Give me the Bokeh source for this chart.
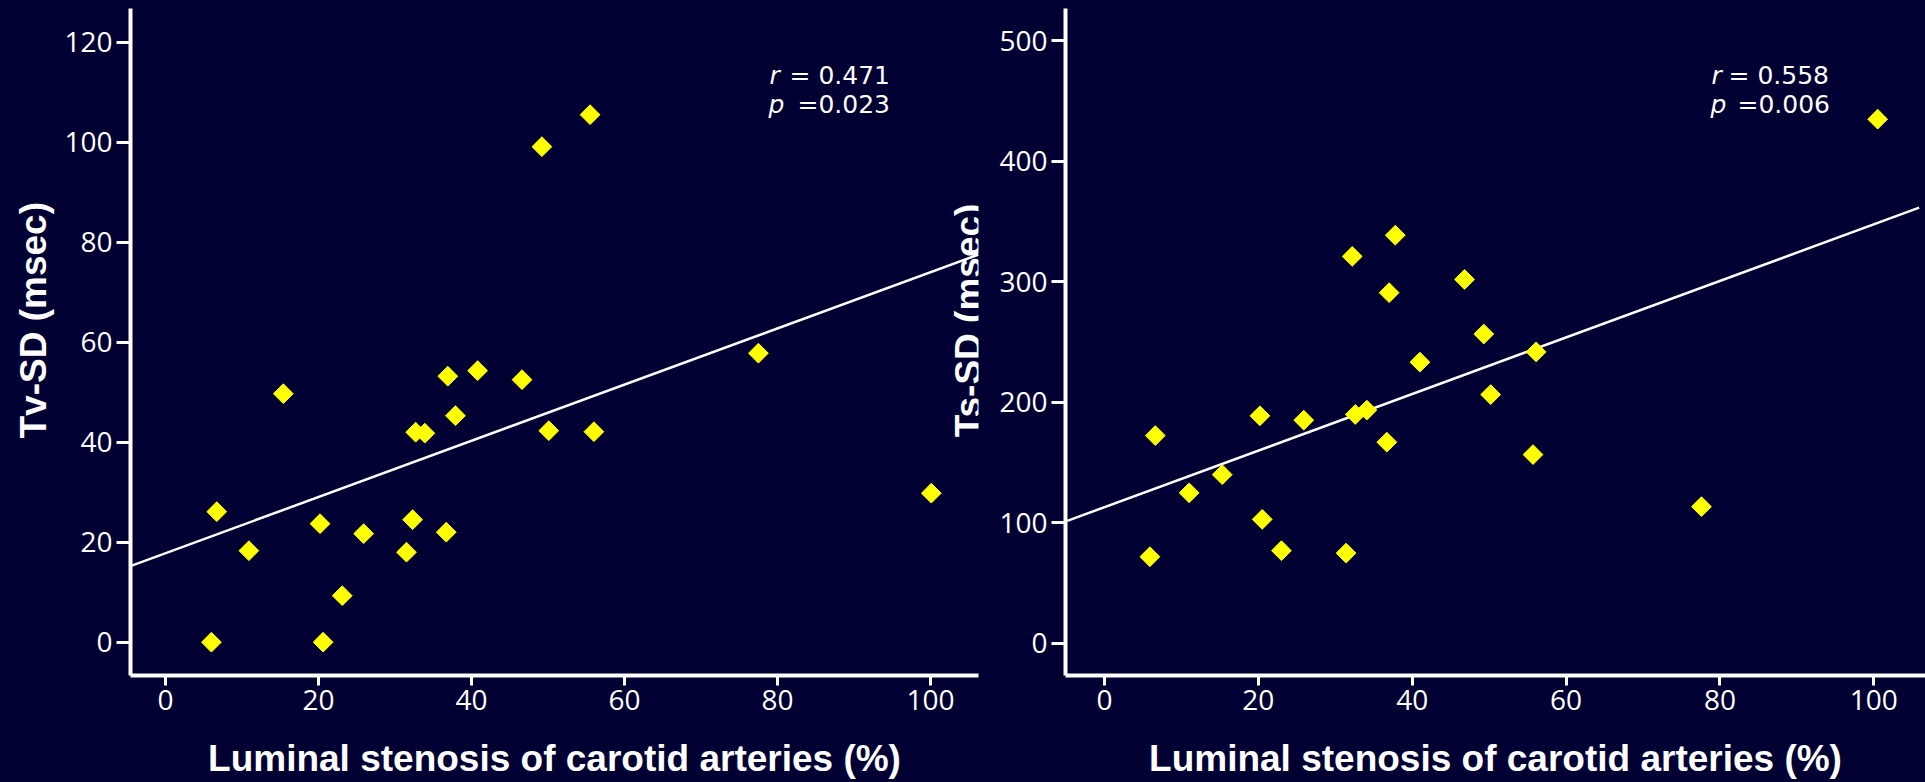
import numpy as np
from bokeh.plotting import figure
from bokeh.models import Range1d, FixedTicker, Label, Title
from bokeh.core.properties import value
from bokeh.layouts import row
from bokeh.embed import file_html
from bokeh.resources import INLINE

# ---------------- data ----------------
stenosis_tv = [15.4, 6.7, 10.9, 20.2, 25.9, 32.3, 31.5, 36.7, 23.1, 6.0, 20.6, 32.7,
               33.9, 37.9, 36.9, 40.8, 55.5, 49.2, 46.6, 50.1, 56.0, 77.5, 100.1]
tv_sd = [49.7, 26.1, 18.3, 23.7, 21.7, 24.5, 18.0, 22.0, 9.3, 0.0, 0.0, 42.0,
         41.8, 45.3, 53.2, 54.3, 105.5, 99.1, 52.5, 42.3, 42.1, 57.8, 29.8]

stenosis_ts = [6.6, 5.9, 11.0, 15.3, 20.2, 20.5, 23.0, 25.9, 32.6, 34.1, 36.7, 31.4,
               32.2, 37.8, 37.0, 41.0, 46.8, 49.3, 56.1, 50.2, 55.7, 77.6, 100.5]
ts_sd = [172.4, 71.9, 124.9, 140.0, 188.8, 102.9, 76.9, 185.2, 189.9, 193.5, 166.9, 74.9,
         321.0, 338.6, 290.9, 233.3, 301.9, 256.6, 241.8, 206.4, 156.6, 113.4, 434.8]

x_ticks = [0, 20, 40, 60, 80, 100]
tv_ticks = [0, 20, 40, 60, 80, 100, 120]
ts_ticks = [0, 100, 200, 300, 400, 500]

# regression lines: intercept, slope, x extent
tv_fit = {"intercept": 17.8, "slope": 0.562, "x": [-4.6, 106.3]}
ts_fit = {"intercept": 113.0, "slope": 2.346, "x": [-4.85, 105.9]}

tv_stats = {"r": "0.471", "p": "0.023"}
ts_stats = {"r": "0.558", "p": "0.006"}

x_title = "Luminal stenosis of carotid arteries (%)"
tv_title = "Tv-SD (msec)"
ts_title = "Ts-SD (msec)"

# ---------------- styling ----------------
BG = "#000033"
YELLOW = "#FFFF00"
WHITE = "#FFFFFF"
TICK_FONT = "Open Sans"
LABEL_FONT = "Liberation Sans"
STAT_FONT = "DejaVu Sans"

# frame geometry (canvas pixels) and ranges
F1 = dict(off=0, left=130, right=978, top=8, bottom=675,
          x0=-4.575, x1=106.27, y0=-6.66, y1=126.74)
F2 = dict(off=990, left=1065, right=1925, top=7, bottom=679,
          x0=-5.07, x1=106.72, y0=-26.6, y1=526.6)


def dx(F, px):
    return F["x0"] + (px - F["left"]) * (F["x1"] - F["x0"]) / (F["right"] - F["left"])


def dy(F, py):
    return F["y0"] + (F["bottom"] - py) * (F["y1"] - F["y0"]) / (F["bottom"] - F["top"])


def make_fig(F, width, ticks_y, xs, ys, fit):
    p = figure(width=width, height=782, output_backend="svg", toolbar_location=None,
               x_range=Range1d(F["x0"], F["x1"]), y_range=Range1d(F["y0"], F["y1"]),
               min_border_left=F["left"] - F["off"],
               min_border_right=F["off"] + width - F["right"],
               min_border_top=F["top"], min_border_bottom=782 - F["bottom"],
               styles={"background-color": BG})
    p.background_fill_color = BG
    p.border_fill_color = BG
    p.outline_line_color = None
    p.xgrid.visible = False
    p.ygrid.visible = False

    p.xaxis.ticker = FixedTicker(ticks=x_ticks)
    p.yaxis.ticker = FixedTicker(ticks=ticks_y)
    for ax in (p.xaxis, p.yaxis):
        ax.axis_line_color = WHITE
        ax.axis_line_width = 4
        ax.major_tick_line_color = WHITE
        ax.major_tick_line_width = 3
        ax.major_tick_in = 0
        ax.minor_tick_line_color = None
        ax.major_label_text_color = WHITE
        ax.major_label_text_font = TICK_FONT
        ax.major_label_text_font_size = "28px"
    p.yaxis.major_tick_out = 14
    p.yaxis.major_label_standoff = 4
    p.xaxis.major_tick_out = 10
    p.xaxis.major_label_standoff = 4

    p.xaxis.axis_label = x_title
    p.xaxis.axis_label_text_color = WHITE
    p.xaxis.axis_label_text_font = LABEL_FONT
    p.xaxis.axis_label_text_font_style = "bold"
    p.xaxis.axis_label_text_font_size = "37px"
    p.xaxis.axis_label_standoff = 25

    fx = np.array(fit["x"])
    p.line(fx, fit["intercept"] + fit["slope"] * fx, line_color=WHITE, line_width=2.5)
    p.scatter(xs, ys, marker="square", angle=np.pi / 4, size=14,
              fill_color=YELLOW, line_color=YELLOW)
    return p


def stat_labels(p, F, stats, r_px, eq_px, p_px, peq_px):
    kw = dict(text_color=WHITE, text_font=STAT_FONT, text_font_size="25px",
              text_baseline="alphabetic", text_align="left")
    p.add_layout(Label(x=dx(F, r_px), y=dy(F, 75), text="r", text_font_style="italic", **kw))
    p.add_layout(Label(x=dx(F, eq_px), y=dy(F, 75), text="= " + stats["r"], **kw))
    p.add_layout(Label(x=dx(F, p_px), y=dy(F, 104), text="p", text_font_style="italic", **kw))
    p.add_layout(Label(x=dx(F, peq_px), y=dy(F, 104), text="=" + stats["p"], **kw))


p1 = make_fig(F1, 990, tv_ticks, stenosis_tv, tv_sd, tv_fit)
p2 = make_fig(F2, 935, ts_ticks, stenosis_ts, ts_sd, ts_fit)

stat_labels(p1, F1, tv_stats, 769, 789, 768, 797)
stat_labels(p2, F2, ts_stats, 1711, 1728, 1710, 1737)

# left y-axis title, placed in the left border panel
p1.add_layout(Title(text=tv_title, align="left", offset=F1["bottom"] - 438,
                    vertical_align="bottom", standoff=16,
                    text_color=WHITE, text_font=LABEL_FONT, text_font_style="bold",
                    text_font_size="37px"), "left")

# right y-axis title: in the reference it sits over the right end of the left panel
p1.text(x=[dx(F1, 968)], y=[dy(F1, 320)], text=[ts_title], angle=np.pi / 2,
        text_align="center", text_baseline="alphabetic",
        text_color=WHITE, text_font=value(LABEL_FONT), text_font_style="bold",
        text_font_size="37px")

layout = row(p1, p2, styles={"background-color": BG})
open("out.html", "w").write(file_html(layout, INLINE))
